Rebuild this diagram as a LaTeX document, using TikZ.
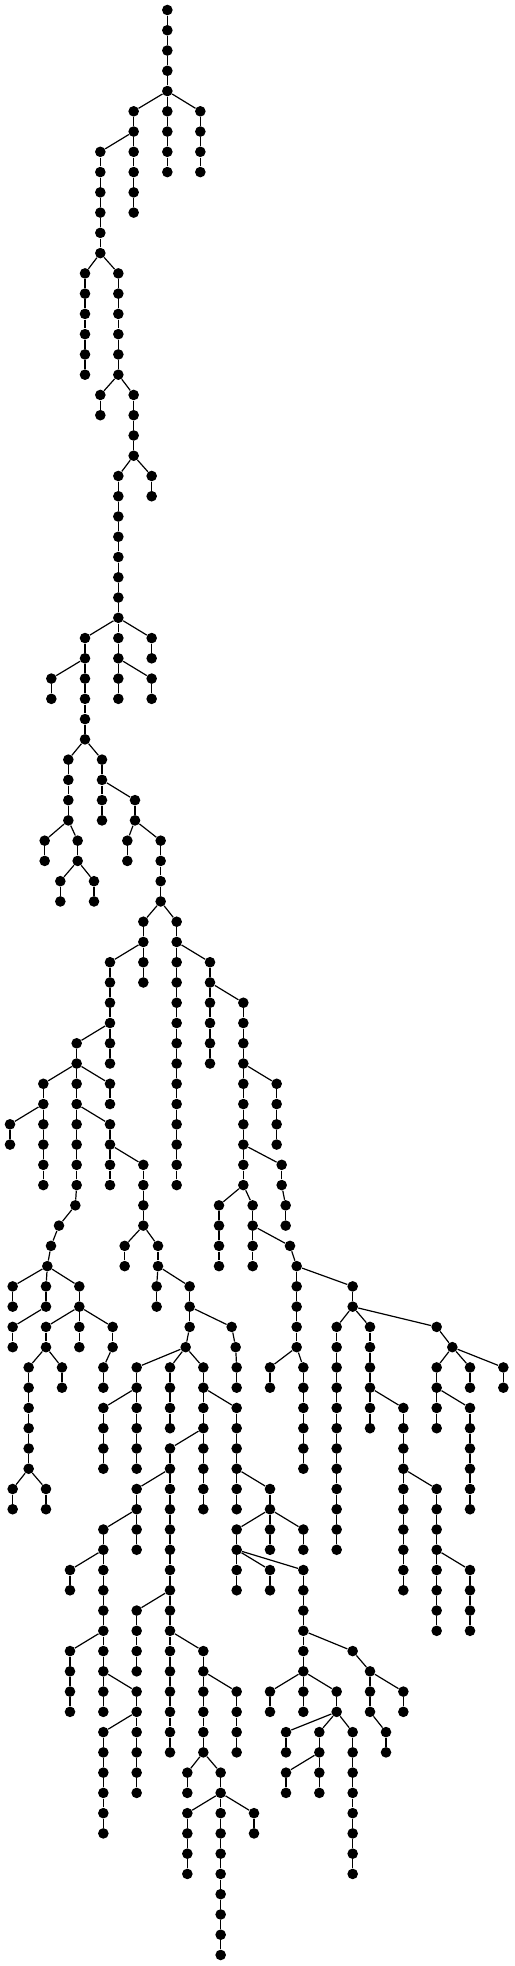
\documentclass[tikz,border=0pt]{standalone}
\usepackage{tikz}

\begin{document}
\begin{tikzpicture}[x=0.16667pt, y=-10.13pt]
            \tikzstyle{vertex}=[circle,fill=black,minimum size=5.3pt,inner sep=0pt]
            \useasboundingbox (0,-0.4936) rectangle (1542,96.545);
            \node[vertex] (v-0-502) at (502,0) {};
            % level/x/parent x
            \foreach \l/\x/\p in {
              1/502/502, 2/502/502, 3/502/502, 4/502/502,
              5/401/502, 5/502/502, 5/601/502,
              6/401/401, 6/502/502, 6/601/601,
              7/301/401, 7/401/401, 7/502/502, 7/601/601,
              8/301/301, 8/401/401, 8/502/502, 8/601/601,
              9/301/301, 9/401/401, 10/301/301, 10/401/401,
              11/301/301, 12/301/301,
              13/255/301, 13/355/301,
              14/255/255, 14/355/355, 15/255/255, 15/355/355, 16/255/255, 16/355/355,
              17/255/255, 17/355/355, 18/255/255, 18/355/355,
              19/301/355, 19/401/355, 20/301/301, 20/401/401,
              21/401/401, 22/401/401,
              23/355/401, 23/455/401, 24/355/355, 24/455/455,
              25/355/355, 26/355/355, 27/355/355, 28/355/355, 29/355/355, 30/355/355,
              31/255/355, 31/355/355, 31/455/355,
              32/255/255, 32/355/355, 32/455/455,
              33/154/255, 33/255/255, 33/355/355, 33/455/355,
              34/154/154, 34/255/255, 34/355/355, 34/455/455,
              35/255/255, 36/255/255,
              37/205/255, 37/306/255, 38/205/205, 38/306/306,
              39/205/205, 39/306/306, 39/405/306,
              40/205/205, 40/306/306, 40/405/405,
              41/134/205, 41/233/205, 41/382/405, 41/482/405,
              42/134/134, 42/233/233, 42/382/382, 42/482/482,
              43/181/233, 43/282/233, 43/482/482,
              44/181/181, 44/282/282, 44/482/482,
              45/430/482, 45/530/482, 46/430/430, 46/530/530,
              47/330/430, 47/430/430, 47/530/530, 47/630/530,
              48/330/330, 48/430/430, 48/530/530, 48/630/630,
              49/330/330, 49/530/530, 49/630/630, 49/730/630,
              50/330/330, 50/530/530, 50/630/630, 50/730/730,
              51/230/330, 51/330/330, 51/530/530, 51/630/630, 51/730/730,
              52/230/230, 52/330/330, 52/530/530, 52/630/630, 52/730/730,
              53/130/230, 53/230/230, 53/330/230, 53/530/530, 53/730/730, 53/830/730,
              54/130/130, 54/230/230, 54/330/330, 54/530/530, 54/730/730, 54/830/830,
              55/30/130, 55/130/130, 55/230/230, 55/330/230, 55/530/530, 55/730/730, 55/830/830,
              56/30/30, 56/130/130, 56/230/230, 56/330/330, 56/530/530, 56/730/730, 56/830/830,
              57/130/130, 57/230/230, 57/330/330, 57/430/330, 57/530/530, 57/730/730, 57/845/730,
              58/130/130, 58/230/230, 58/330/330, 58/430/430, 58/530/530, 58/730/730, 58/845/845,
              59/226/230, 59/430/430, 59/657/730, 59/758/730, 59/857/845,
              60/177/226, 60/430/430, 60/657/657, 60/758/758, 60/857/857,
              61/153/177, 61/374/430, 61/474/430, 61/657/657, 61/758/758, 61/870/758,
              62/142/153, 62/374/374, 62/474/474, 62/657/657, 62/758/758, 62/890/870,
              63/38/142, 63/138/142, 63/238/142, 63/470/474, 63/569/474, 63/890/890, 63/1058/890,
              64/38/38, 64/138/138, 64/238/238, 64/470/470, 64/569/569, 64/890/890, 64/1058/1058,
              65/38/138, 65/138/238, 65/238/238, 65/338/238, 65/569/569, 65/695/569, 65/890/890,
              65/1010/1058, 65/1110/1058, 65/1310/1058,
              66/38/38, 66/138/138, 66/238/238, 66/338/338, 66/557/569, 66/707/695, 66/890/890,
              66/1010/1010, 66/1110/1110, 66/1357/1310,
              67/86/138, 67/186/138, 67/310/338, 67/410/557, 67/510/557, 67/610/557, 67/710/707,
              67/810/890, 67/910/890, 67/1010/1010, 67/1110/1110, 67/1310/1357, 67/1410/1357, 67/1510/1357,
              68/86/86, 68/186/186, 68/310/310, 68/410/410, 68/510/510, 68/610/610, 68/710/710,
              68/810/810, 68/910/910, 68/1010/1010, 68/1110/1110, 68/1310/1310, 68/1410/1410, 68/1510/1510,
              69/86/86, 69/310/410, 69/410/410, 69/510/510, 69/610/610, 69/710/610, 69/910/910,
              69/1010/1010, 69/1110/1110, 69/1210/1110, 69/1310/1310, 69/1410/1310,
              70/86/86, 70/310/310, 70/410/410, 70/510/510, 70/610/610, 70/710/710, 70/910/910,
              70/1010/1010, 70/1110/1110, 70/1210/1210, 70/1310/1310, 70/1410/1410,
              71/86/86, 71/310/310, 71/410/410, 71/510/610, 71/610/610, 71/710/710, 71/910/910,
              71/1010/1010, 71/1210/1210, 71/1410/1410,
              72/86/86, 72/310/310, 72/410/410, 72/510/510, 72/610/610, 72/710/710, 72/910/910,
              72/1010/1010, 72/1210/1210, 72/1410/1410,
              73/38/86, 73/138/86, 73/410/510, 73/510/510, 73/610/610, 73/710/710, 73/810/710,
              73/1010/1010, 73/1210/1210, 73/1310/1210, 73/1410/1410,
              74/38/38, 74/138/138, 74/410/410, 74/510/510, 74/610/610, 74/710/710, 74/810/810,
              74/1010/1010, 74/1210/1210, 74/1310/1310, 74/1410/1410,
              75/310/410, 75/410/410, 75/510/510, 75/710/810, 75/810/810, 75/910/810,
              75/1010/1010, 75/1210/1210, 75/1310/1310,
              76/310/310, 76/410/410, 76/510/510, 76/710/710, 76/810/810, 76/910/910,
              76/1010/1010, 76/1210/1210, 76/1310/1310,
              77/210/310, 77/310/310, 77/510/510, 77/710/710, 77/810/710, 77/910/710,
              77/1210/1210, 77/1310/1310, 77/1410/1310,
              78/210/210, 78/310/310, 78/510/510, 78/710/710, 78/810/810, 78/910/910,
              78/1210/1210, 78/1310/1310, 78/1410/1410,
              79/310/310, 79/410/510, 79/510/510, 79/910/910, 79/1310/1310, 79/1410/1410,
              80/310/310, 80/410/410, 80/510/510, 80/910/910, 80/1310/1310, 80/1410/1410,
              81/210/310, 81/310/310, 81/410/410, 81/510/510, 81/610/510, 81/910/910, 81/1058/910,
              82/210/210, 82/310/310, 82/410/410, 82/510/510, 82/610/610, 82/910/910, 82/1110/1058,
              83/210/210, 83/310/310, 83/410/310, 83/510/510, 83/610/610, 83/710/610,
              83/810/910, 83/910/910, 83/1010/910, 83/1110/1110, 83/1210/1110,
              84/210/210, 84/310/310, 84/410/410, 84/510/510, 84/610/610, 84/710/710,
              84/810/810, 84/910/910, 84/1010/1010, 84/1110/1110, 84/1210/1210,
              85/310/410, 85/410/410, 85/510/510, 85/610/610, 85/710/710,
              85/858/1010, 85/958/1010, 85/1058/1010, 85/1158/1110,
              86/310/310, 86/410/410, 86/510/510, 86/610/610, 86/710/710,
              86/858/858, 86/958/958, 86/1058/1058, 86/1158/1158,
              87/310/310, 87/410/410, 87/562/610, 87/662/610, 87/858/958, 87/958/958, 87/1058/1058,
              88/310/310, 88/410/410, 88/562/562, 88/662/662, 88/858/858, 88/958/958, 88/1058/1058,
              89/310/310, 89/562/662, 89/662/662, 89/762/662, 89/1058/1058,
              90/310/310, 90/562/562, 90/662/662, 90/762/762, 90/1058/1058,
              91/562/562, 91/662/662, 91/1058/1058,
              92/562/562, 92/662/662, 92/1058/1058,
              93/662/662, 94/662/662, 95/662/662, 96/662/662}{
                \node[vertex] (v-\l-\x) at (\x,\l) {};
                \pgfmathtruncatemacro\pl{\l-1}
                \draw[line width=0.6pt] (v-\pl-\p) -- (v-\l-\x);
            }
        \end{tikzpicture}
\end{document}
